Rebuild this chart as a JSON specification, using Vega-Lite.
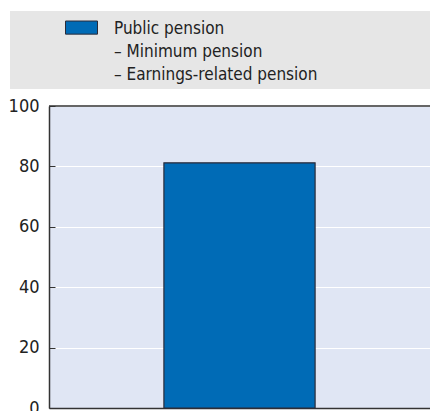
{
  "$schema": "https://vega.github.io/schema/vega-lite/v6.json",
  "width": 381,
  "height": 302,
  "autosize": {"type": "none"},
  "padding": {"left": 49, "top": 106, "right": 0, "bottom": 3},
  "background": "white",
  "data": {"values": [{"category": "Public pension", "value": 81.2}]},
  "layer": [
    {
      "mark": {"type": "bar", "stroke": "#2b2b38", "strokeWidth": 1.2},
      "encoding": {
        "x": {
          "field": "category",
          "type": "nominal",
          "scale": {"paddingInner": 0, "paddingOuter": 0.76},
          "axis": {"title": null, "labels": false, "ticks": false, "domain": true, "domainColor": "#333333", "domainWidth": 1.5, "grid": false}
        },
        "y": {
          "field": "value",
          "type": "quantitative",
          "scale": {"domain": [0, 100]},
          "axis": {
            "title": null,
            "values": [0, 20, 40, 60, 80, 100],
            "grid": true,
            "gridColor": "#ffffff",
            "gridWidth": 1.2,
            "domain": true,
            "domainColor": "#333333",
            "domainWidth": 1.5,
            "ticks": true,
            "tickSize": -6,
            "tickColor": "#333333",
            "tickWidth": 1,
            "labelPadding": 16,
            "labelFontSize": 18,
            "labelColor": "#222222"
          }
        },
        "color": {
          "field": "category",
          "type": "nominal",
          "scale": {"range": ["#006BB6"]},
          "legend": {
            "title": null,
            "orient": "none",
            "legendX": -39,
            "legendY": -95,
            "fillColor": "#E6E6E6",
            "padding": 6,
            "symbolOffset": 49,
            "symbolType": "M-1,-0.78H1V0.04H-1Z",
            "symbolSize": 1024,
            "symbolStrokeColor": "#2b2b38",
            "symbolStrokeWidth": 1,
            "symbolOpacity": 1,
            "labelOffset": 16,
            "labelFontSize": 17,
            "labelBaseline": "alphabetic",
            "labelColor": "#222222",
            "labelLimit": 1000,
            "encoding": {"labels": {"lineHeight": {"value": 23}}},
            "labelExpr": "['Public pension', '– Minimum pension', '– Earnings-related pension\u00a0\u00a0\u00a0\u00a0\u00a0\u00a0\u00a0\u00a0\u00a0\u00a0\u00a0\u00a0\u00a0\u00a0\u00a0\u00a0\u00a0\u00a0\u00a0\u00a0\u00a0\u00a0\u00a0\u200b']"
          }
        }
      }
    },
    {
      "mark": {"type": "rule", "stroke": "#333333", "strokeWidth": 1.5},
      "encoding": {"y": {"datum": 100}}
    }
  ],
  "config": {
    "view": {"fill": "#E0E6F4", "stroke": null},
    "font": "DejaVu Sans Condensed, sans-serif"
  }
}
